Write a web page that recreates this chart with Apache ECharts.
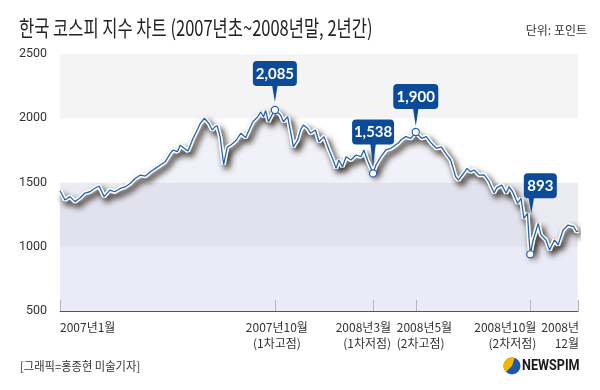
<!DOCTYPE html>
<html><head><meta charset="utf-8">
<script src="https://cdn.jsdelivr.net/npm/echarts@6/dist/echarts.min.js"></script>
<style>html,body{margin:0;padding:0;background:#fff}#c{width:600px;height:390px}</style>
</head><body><div id="c"></div>
<script>
// ---- data (KOSPI closing level) ----
const dates = [
'2007-01-02','2007-01-09','2007-01-16','2007-01-23','2007-01-30','2007-02-06','2007-02-13','2007-02-20','2007-02-26','2007-03-05',
'2007-03-13','2007-03-20','2007-03-28','2007-04-04','2007-04-11','2007-04-18','2007-04-25','2007-05-02','2007-05-09','2007-05-16',
'2007-05-23','2007-05-30','2007-06-06','2007-06-10','2007-06-16','2007-06-20','2007-06-27','2007-07-01','2007-07-08','2007-07-15',
'2007-07-18','2007-07-24','2007-07-30','2007-08-04','2007-08-08','2007-08-11','2007-08-15','2007-08-20','2007-08-25','2007-08-30',
'2007-09-06','2007-09-13','2007-09-20','2007-09-24','2007-09-30','2007-10-07','2007-10-11','2007-10-15','2007-10-18','2007-10-22',
'2007-10-28','2007-10-31','2007-11-08','2007-11-12','2007-11-18','2007-11-22','2007-11-26','2007-12-02','2007-12-06','2007-12-10',
'2007-12-16','2007-12-20','2007-12-27','2008-01-01','2008-01-08','2008-01-15','2008-01-20','2008-01-25','2008-01-29','2008-02-03',
'2008-02-08','2008-02-15','2008-02-22','2008-02-29','2008-03-04','2008-03-10','2008-03-17','2008-03-21','2008-03-28','2008-04-04',
'2008-04-11','2008-04-21','2008-04-25','2008-05-02','2008-05-09','2008-05-16','2008-05-24','2008-05-31','2008-06-07','2008-06-14',
'2008-06-21','2008-06-27','2008-07-04','2008-07-11','2008-07-15','2008-07-22','2008-07-27','2008-08-01','2008-08-06','2008-08-13',
'2008-08-20','2008-08-27','2008-09-03','2008-09-07','2008-09-14','2008-09-20','2008-09-24','2008-09-29','2008-10-06','2008-10-11',
'2008-10-15','2008-10-20','2008-10-22','2008-10-24','2008-10-28','2008-11-04','2008-11-08','2008-11-15','2008-11-20','2008-11-27',
'2008-12-02','2008-12-09','2008-12-16','2008-12-24','2008-12-28','2008-12-30'];
const kospi = [
1436,1364,1390,1351,1379,1418,1428,1455,1473,1390,
1441,1428,1455,1467,1494,1533,1558,1550,1584,1610,
1636,1662,1727,1753,1740,1790,1760,1745,1844,1922,
1960,2000,1961,1909,1935,1940,1857,1640,1775,1792,
1825,1883,1850,1900,1973,2012,2050,2012,2060,1973,
2038,2064,2025,1973,2012,1896,1778,1831,1909,1947,
1922,1883,1909,1817,1857,1753,1688,1610,1675,1623,
1701,1675,1714,1701,1753,1662,1571,1636,1701,1753,
1766,1805,1831,1857,1844,1893,1844,1857,1805,1766,
1778,1727,1675,1545,1519,1570,1610,1584,1597,1558,
1560,1506,1420,1460,1480,1416,1467,1430,1338,1377,
1221,1260,1078,941,1053,1182,1091,1053,975,1053,
1014,1130,1169,1156,1117,1124];

// callouts (highs / lows)
const calloutDates  = ['2007-10-31','2008-03-17','2008-05-16','2008-10-24'];
const calloutLabels = ['2,085','1,538','1,900','893'];

// x-axis labels
const xLabelDates = ['2007-01-02','2007-10-31','2008-03-17','2008-05-16','2008-10-24','2008-12-30'];
const xLabelTexts = ['2007년1월','2007년10월\n(1차고점)','2008년3월\n(1차저점)','2008년5월\n(2차고점)','2008년10월\n(2차저점)','2008년\n12월'];

// y-axis ticks
const yMin = 500, yMax = 2500, yStep = 500;

// ---- styles (not data) ----
const calloutLift   = [24, 29, 23, 56];
const calloutDx     = [0, 0, 0, 10];
const pointerDx     = [0, 0, 0, 1];
const pointerLen    = [16, 22, 17, 15];
const calloutW      = [44, 42, 45, 33];
const xLabelAlign   = ['left','center','right','left','right','right'];
const xLabelDx      = [0, 2, 18, -19, 6, 1];

const BLUE = '#2262b6', BOX = '#0d4b98';
const lineData = dates.map((d, i) => [d, kospi[i]]);
const calloutData = calloutDates.map(d => [d, kospi[dates.indexOf(d)]]);
const xLabelData = xLabelDates.map(d => [d, yMin]);

const chart = echarts.init(document.getElementById('c'), null, {renderer: 'canvas'});
chart.setOption({
  animation: false,
  backgroundColor: '#fff',
  grid: {left: 60, right: 22, top: 54, bottom: 79},
  xAxis: {
    type: 'time',
    min: dates[0], max: dates[dates.length - 1],
    axisLine: {show: true, lineStyle: {color: '#555', width: 1}},
    axisTick: {show: true, inside: true, length: 11,
      customValues: xLabelDates.map(d => echarts.time.parse(d).getTime()),
      lineStyle: {color: '#b5b5bd', width: 1}},
    axisLabel: {show: false},
    splitLine: {show: false}
  },
  yAxis: {
    type: 'value', min: yMin, max: yMax, interval: yStep,
    axisLine: {show: false}, axisTick: {show: false},
    splitLine: {show: false},
    splitArea: {show: true, areaStyle: {color: ['#f6f6fc', '#ebebf2', '#ffffff', '#f4f4f4']}},
    axisLabel: {color: '#333', fontSize: 12.5, fontFamily: 'Roboto', margin: 13, formatter: v => String(v)}
  },
  graphic: [
    {type: 'text', x: 19, y: 28, scaleX: 0.75,
     style: {text: '한국 코스피 지수 차트 (2007년초~2008년말, 2년간)', font: '22px "Noto Sans CJK KR"', fill: '#222',
             textAlign: 'left', textVerticalAlign: 'middle', align: 'left', verticalAlign: 'middle'}},
    {type: 'text', x: 587, y: 30,
     style: {text: '단위: 포인트', font: '12px "Noto Sans CJK KR"', fill: '#333',
             textAlign: 'right', textVerticalAlign: 'middle', align: 'right', verticalAlign: 'middle'}},
    {type: 'text', x: 20, y: 366, scaleX: 0.94,
     style: {text: '[그래픽=홍종현 미술기자]', font: '12px "Noto Sans CJK KR"', fill: '#333',
             textAlign: 'left', textVerticalAlign: 'middle', align: 'left', verticalAlign: 'middle'}},
    {type: 'circle', shape: {cx: 512, cy: 366, r: 8.5}, style: {fill: '#1d58a5'}},
    {type: 'sector', shape: {cx: 512, cy: 366, r: 8.5, r0: 0, startAngle: Math.PI * 0.75, endAngle: Math.PI * 1.6}, style: {fill: '#f4b400'}},
    {type: 'text', x: 522, y: 366, scaleX: 0.84,
     style: {text: 'NEWSPIM', font: 'bold 15px "Roboto"', fill: '#1a1a1a',
             textAlign: 'left', textVerticalAlign: 'middle', align: 'left', verticalAlign: 'middle'}}
  ],
  series: [
    {
      name: 'outline', type: 'line', data: lineData, symbol: 'none', z: 2,
      lineStyle: {color: '#ffffff', width: 4.5, shadowColor: 'rgba(35,25,15,1)', shadowBlur: 6, shadowOffsetX: 3, shadowOffsetY: 4},
      areaStyle: {color: 'rgba(190,192,225,0.3)', origin: 'start'}
    },
    {
      name: 'KOSPI', type: 'line', data: lineData, symbol: 'none', z: 3,
      lineStyle: {color: BLUE, width: 1.3}
    },
    {
      name: 'callouts', type: 'custom', data: calloutData, z: 5, clip: false,
      renderItem: function (params, api) {
        const i = params.dataIndex;
        const p = api.coord([api.value(0), api.value(1)]);
        const bottom = p[1] - calloutLift[i];
        const cx = p[0] + calloutDx[i];
        const px = p[0] + pointerDx[i];
        const w = calloutW[i], h = 25;
        return {type: 'group', children: [
          {type: 'polygon', shape: {points: [[px - 2.8, bottom - 1], [px + 2.8, bottom - 1], [px, bottom + pointerLen[i]]]}, style: {fill: BOX}},
          {type: 'rect', shape: {x: cx - w / 2, y: bottom - h, width: w, height: h, r: 4}, style: {fill: BOX}},
          {type: 'text', style: {x: cx, y: bottom - h / 2 + 0.5, text: calloutLabels[i], fill: '#fff', font: 'bold 15px Lato',
             align: 'center', verticalAlign: 'middle', textAlign: 'center', textVerticalAlign: 'middle'}},
          {type: 'circle', shape: {cx: p[0], cy: p[1], r: 3.6}, style: {fill: '#fff', stroke: BLUE, lineWidth: 1.2}}
        ]};
      }
    },
    {
      name: 'xlabels', type: 'custom', data: xLabelData, z: 5, clip: false, silent: true,
      renderItem: function (params, api) {
        const i = params.dataIndex;
        const p = api.coord([api.value(0), api.value(1)]);
        return {type: 'text', style: {x: p[0] + xLabelDx[i], y: p[1] + 8, text: xLabelTexts[i], fill: '#333',
          font: '12px "Noto Sans CJK KR"', lineHeight: 16,
          align: xLabelAlign[i], verticalAlign: 'top', textAlign: xLabelAlign[i], textVerticalAlign: 'top'}};
      }
    }
  ]
});
</script></body></html>
